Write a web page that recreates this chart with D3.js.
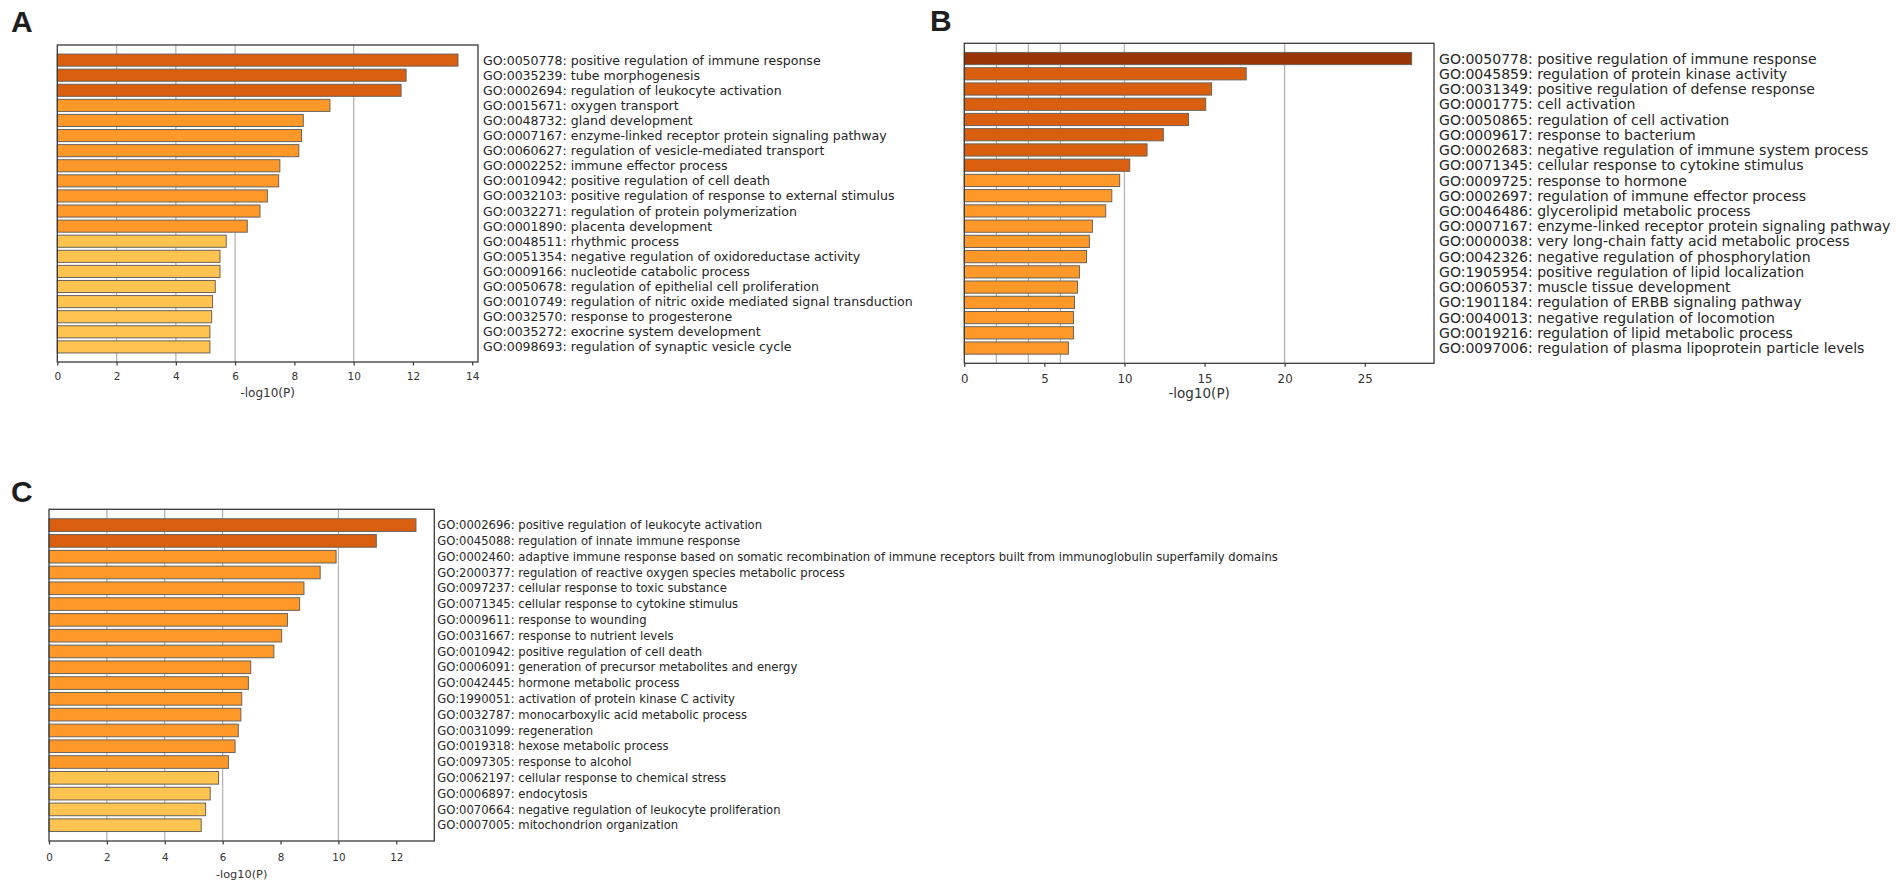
<!DOCTYPE html>
<html>
<head>
<meta charset="utf-8">
<script src="https://cdn.jsdelivr.net/npm/d3@7"></script>
<style>
  html, body { margin: 0; padding: 0; background: #ffffff; }
  svg { display: block; }
</style>
</head>
<body>
<script>
// ---------------- DATA ----------------
const termsA = [
  "GO:0050778: positive regulation of immune response",
  "GO:0035239: tube morphogenesis",
  "GO:0002694: regulation of leukocyte activation",
  "GO:0015671: oxygen transport",
  "GO:0048732: gland development",
  "GO:0007167: enzyme-linked receptor protein signaling pathway",
  "GO:0060627: regulation of vesicle-mediated transport",
  "GO:0002252: immune effector process",
  "GO:0010942: positive regulation of cell death",
  "GO:0032103: positive regulation of response to external stimulus",
  "GO:0032271: regulation of protein polymerization",
  "GO:0001890: placenta development",
  "GO:0048511: rhythmic process",
  "GO:0051354: negative regulation of oxidoreductase activity",
  "GO:0009166: nucleotide catabolic process",
  "GO:0050678: regulation of epithelial cell proliferation",
  "GO:0010749: regulation of nitric oxide mediated signal transduction",
  "GO:0032570: response to progesterone",
  "GO:0035272: exocrine system development",
  "GO:0098693: regulation of synaptic vesicle cycle"
];
const valuesA = [13.52, 11.77, 11.60, 9.20, 8.30, 8.24, 8.15, 7.51, 7.47, 7.09,
                 6.84, 6.41, 5.70, 5.49, 5.49, 5.33, 5.24, 5.21, 5.15, 5.15];

const termsB = [
  "GO:0050778: positive regulation of immune response",
  "GO:0045859: regulation of protein kinase activity",
  "GO:0031349: positive regulation of defense response",
  "GO:0001775: cell activation",
  "GO:0050865: regulation of cell activation",
  "GO:0009617: response to bacterium",
  "GO:0002683: negative regulation of immune system process",
  "GO:0071345: cellular response to cytokine stimulus",
  "GO:0009725: response to hormone",
  "GO:0002697: regulation of immune effector process",
  "GO:0046486: glycerolipid metabolic process",
  "GO:0007167: enzyme-linked receptor protein signaling pathway",
  "GO:0000038: very long-chain fatty acid metabolic process",
  "GO:0042326: negative regulation of phosphorylation",
  "GO:1905954: positive regulation of lipid localization",
  "GO:0060537: muscle tissue development",
  "GO:1901184: regulation of ERBB signaling pathway",
  "GO:0040013: negative regulation of locomotion",
  "GO:0019216: regulation of lipid metabolic process",
  "GO:0097006: regulation of plasma lipoprotein particle levels"
];
const valuesB = [27.93, 17.60, 15.44, 15.07, 14.00, 12.43, 11.41, 10.33, 9.70, 9.21,
                 8.83, 8.00, 7.81, 7.63, 7.19, 7.07, 6.88, 6.82, 6.82, 6.50];

const termsC = [
  "GO:0002696: positive regulation of leukocyte activation",
  "GO:0045088: regulation of innate immune response",
  "GO:0002460: adaptive immune response based on somatic recombination of immune receptors built from immunoglobulin superfamily domains",
  "GO:2000377: regulation of reactive oxygen species metabolic process",
  "GO:0097237: cellular response to toxic substance",
  "GO:0071345: cellular response to cytokine stimulus",
  "GO:0009611: response to wounding",
  "GO:0031667: response to nutrient levels",
  "GO:0010942: positive regulation of cell death",
  "GO:0006091: generation of precursor metabolites and energy",
  "GO:0042445: hormone metabolic process",
  "GO:1990051: activation of protein kinase C activity",
  "GO:0032787: monocarboxylic acid metabolic process",
  "GO:0031099: regeneration",
  "GO:0019318: hexose metabolic process",
  "GO:0097305: response to alcohol",
  "GO:0062197: cellular response to chemical stress",
  "GO:0006897: endocytosis",
  "GO:0070664: negative regulation of leukocyte proliferation",
  "GO:0007005: mitochondrion organization"
];
const valuesC = [12.68, 11.31, 9.92, 9.37, 8.81, 8.66, 8.24, 8.04, 7.77, 6.97,
                 6.89, 6.66, 6.63, 6.54, 6.43, 6.20, 5.86, 5.57, 5.41, 5.26];

const gridValues = [2, 4, 6, 10, 20];          // -log10(P) reference lines
const colorBreaks = [6, 10, 20];               // -log10(P) bins for colouring
const binColors = ["#fec44f", "#fe9929", "#d95f0e", "#993404"];
const axisTitle = "-log10(P)";

// ---------------- DRAWING ----------------
const W = 1902, H = 896;
const FONT = "'DejaVu Sans', Verdana, sans-serif";
const svg = d3.select("body").append("svg").attr("width", W).attr("height", H);

const color = d3.scaleThreshold().domain(colorBreaks).range(binColors);

function drawPanel(terms, values, cfg) {
  const g = svg.append("g");
  const x = d3.scaleLinear()
    .domain([0, d3.max(values) * 1.05])
    .range([cfg.left, cfg.right]);
  const y = d3.scaleBand()
    .domain(d3.range(values.length))
    .range([cfg.top, cfg.bottom])
    .paddingInner(0.2)
    .paddingOuter(0.6);

  // grid lines
  g.append("g").selectAll("line")
    .data(gridValues.filter(v => v < x.domain()[1]))
    .join("line")
    .attr("x1", d => x(d)).attr("x2", d => x(d))
    .attr("y1", cfg.top).attr("y2", cfg.bottom)
    .attr("stroke", "#b5b5b5").attr("stroke-width", 1.3);

  // bars
  g.append("g").selectAll("rect")
    .data(values)
    .join("rect")
    .attr("x", x(0))
    .attr("y", (d, i) => y(i))
    .attr("width", d => x(d) - x(0))
    .attr("height", y.bandwidth())
    .attr("fill", d => color(d))
    .attr("stroke", "#6e6258")
    .attr("stroke-width", 1);

  // frame
  g.append("rect")
    .attr("x", cfg.left).attr("y", cfg.top)
    .attr("width", cfg.right - cfg.left).attr("height", cfg.bottom - cfg.top)
    .attr("fill", "none").attr("stroke", "#3a3a3a").attr("stroke-width", 1.3);

  // bottom axis
  const ax = g.append("g")
    .attr("transform", `translate(0,${cfg.bottom})`)
    .call(d3.axisBottom(x).ticks(6).tickSize(3.5).tickPadding(cfg.tickPad).tickSizeOuter(0));
  ax.select(".domain").remove();
  ax.selectAll(".tick line").attr("stroke", "#3a3a3a").attr("stroke-width", 1.2);
  ax.selectAll(".tick text")
    .attr("font-family", FONT).attr("font-size", cfg.tickFont).attr("fill", "#333");

  // axis title
  g.append("text")
    .attr("x", (cfg.left + cfg.right) / 2)
    .attr("y", cfg.titleY)
    .attr("text-anchor", "middle")
    .attr("font-family", FONT).attr("font-size", cfg.titleFont).attr("fill", "#333")
    .text(axisTitle);

  // right-hand term labels
  g.append("g").selectAll("text")
    .data(terms)
    .join("text")
    .attr("x", cfg.right + cfg.labelGap)
    .attr("y", (d, i) => y(i) + y.bandwidth() / 2)
    .attr("dy", "0.36em")
    .attr("font-family", FONT).attr("font-size", cfg.labelFont).attr("fill", "#262626")
    .text(d => d);

  // panel letter
  svg.append("text")
    .attr("x", cfg.letterX).attr("y", cfg.letterY)
    .attr("font-family", "'Liberation Sans', Arial, sans-serif")
    .attr("font-weight", "bold").attr("font-size", 30).attr("fill", "#1e1e1e")
    .text(cfg.letter);
}

drawPanel(termsA, valuesA, {
  letter: "A", letterX: 11, letterY: 32,
  left: 57.3, right: 478, top: 45, bottom: 362,
  labelFont: 12.57, labelGap: 5, tickFont: 10.5, tickPad: 7, titleFont: 12, titleY: 397
});
drawPanel(termsB, valuesB, {
  letter: "B", letterX: 930, letterY: 31,
  left: 964.3, right: 1434, top: 43.3, bottom: 363.3,
  labelFont: 14.05, labelGap: 5, tickFont: 11.8, tickPad: 7.5, titleFont: 13.5, titleY: 397.5
});
drawPanel(termsC, valuesC, {
  letter: "C", letterX: 11, letterY: 502,
  left: 49, right: 434.3, top: 509.3, bottom: 841,
  labelFont: 11.6, labelGap: 3, tickFont: 10.3, tickPad: 9, titleFont: 11.3, titleY: 877.5
});
</script>
</body>
</html>
